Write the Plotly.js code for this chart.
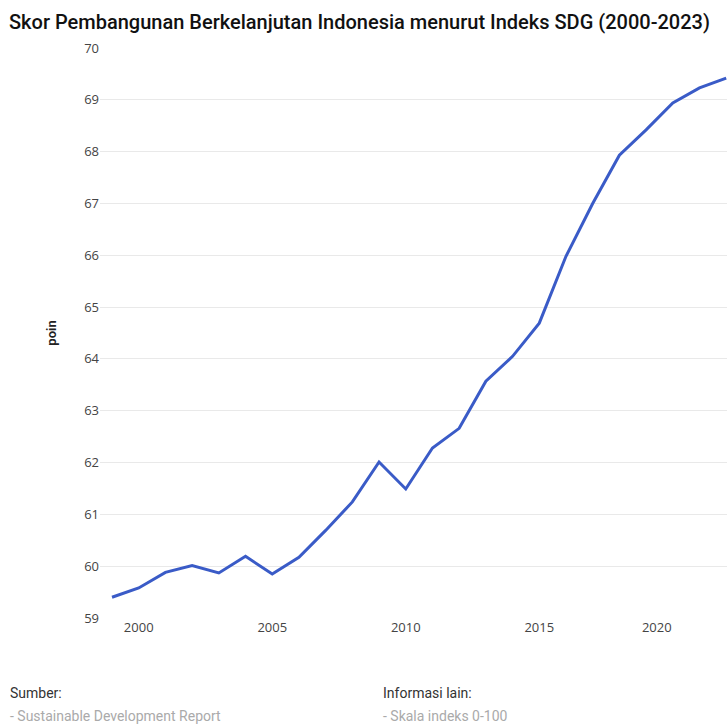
<!DOCTYPE html>
<html>
<head>
<meta charset="utf-8">
<script src="https://cdn.plot.ly/plotly-3.0.1.min.js"></script>
<style>html,body{margin:0;padding:0;background:#fff;}#chart{width:727px;height:724px;}</style>
</head>
<body>
<div id="chart"></div>
<script>
var years = [2000,2001,2002,2003,2004,2005,2006,2007,2008,2009,2010,2011,2012,2013,2014,2015,2016,2017,2018,2019,2020,2021,2022,2023];
var scores = [59.40,59.58,59.88,60.01,59.87,60.19,59.85,60.17,60.69,61.24,62.01,61.49,62.28,62.66,63.57,64.05,64.69,65.98,67.00,67.93,68.42,68.94,69.23,69.42];
var xTickVals = [2001,2006,2011,2016,2020.4];
var xTickText = ["2000","2005","2010","2015","2020"];
var yTickVals = [59,60,61,62,63,64,65,66,67,68,69,70];

var trace = {
  x: years, y: scores, type: 'scatter', mode: 'lines',
  line: {color: '#3a5bc7', width: 3},
  hoverinfo: 'x+y'
};
var layout = {
  width: 727, height: 724,
  margin: {l: 100, r: 0, t: 48, b: 106},
  paper_bgcolor: '#fff', plot_bgcolor: '#fff',
  showlegend: false,
  title: {
    text: 'Skor Pembangunan Berkelanjutan Indonesia menurut Indeks SDG (2000-2023)',
    font: {family: 'Roboto', size: 20, color: '#111', weight: 500},
    x: 9/727, xanchor: 'left', xref: 'container',
    y: 1 - 22/724, yanchor: 'middle', yref: 'container'
  },
  xaxis: {
    range: [1999.55, 2023.03],
    tickvals: xTickVals, ticktext: xTickText,
    showgrid: false, zeroline: false, showline: false, ticks: '',
    tickfont: {family: 'Open Sans', size: 13, color: '#444'}
  },
  yaxis: {
    range: [59, 70],
    tickvals: yTickVals,
    showgrid: true, gridcolor: '#e9e9e9', gridwidth: 1,
    zeroline: false, showline: false, ticks: '',
    tickfont: {family: 'Open Sans', size: 13, color: '#444'},
    title: {text: 'poin', font: {family: 'Roboto', size: 13, color: '#222', weight: 600}, standoff: 24}
  },
  annotations: [
    {text: 'Sumber:', xref: 'paper', yref: 'paper', x: (8-100)/627, y: (618-693)/570, xanchor: 'left', yanchor: 'middle', showarrow: false, font: {family: 'Roboto', size: 14, color: '#333'}},
    {text: '- Sustainable Development Report', xref: 'paper', yref: 'paper', x: (8-100)/627, y: (618-716)/570, xanchor: 'left', yanchor: 'middle', showarrow: false, font: {family: 'Roboto', size: 14, color: '#aaa'}},
    {text: 'Informasi lain:', xref: 'paper', yref: 'paper', x: (381-100)/627, y: (618-693)/570, xanchor: 'left', yanchor: 'middle', showarrow: false, font: {family: 'Roboto', size: 14, color: '#333'}},
    {text: '- Skala indeks 0-100', xref: 'paper', yref: 'paper', x: (381-100)/627, y: (618-716)/570, xanchor: 'left', yanchor: 'middle', showarrow: false, font: {family: 'Roboto', size: 14, color: '#aaa'}}
  ]
};
Plotly.newPlot('chart', [trace], layout, {displayModeBar: false, staticPlot: true});
</script>
</body>
</html>
